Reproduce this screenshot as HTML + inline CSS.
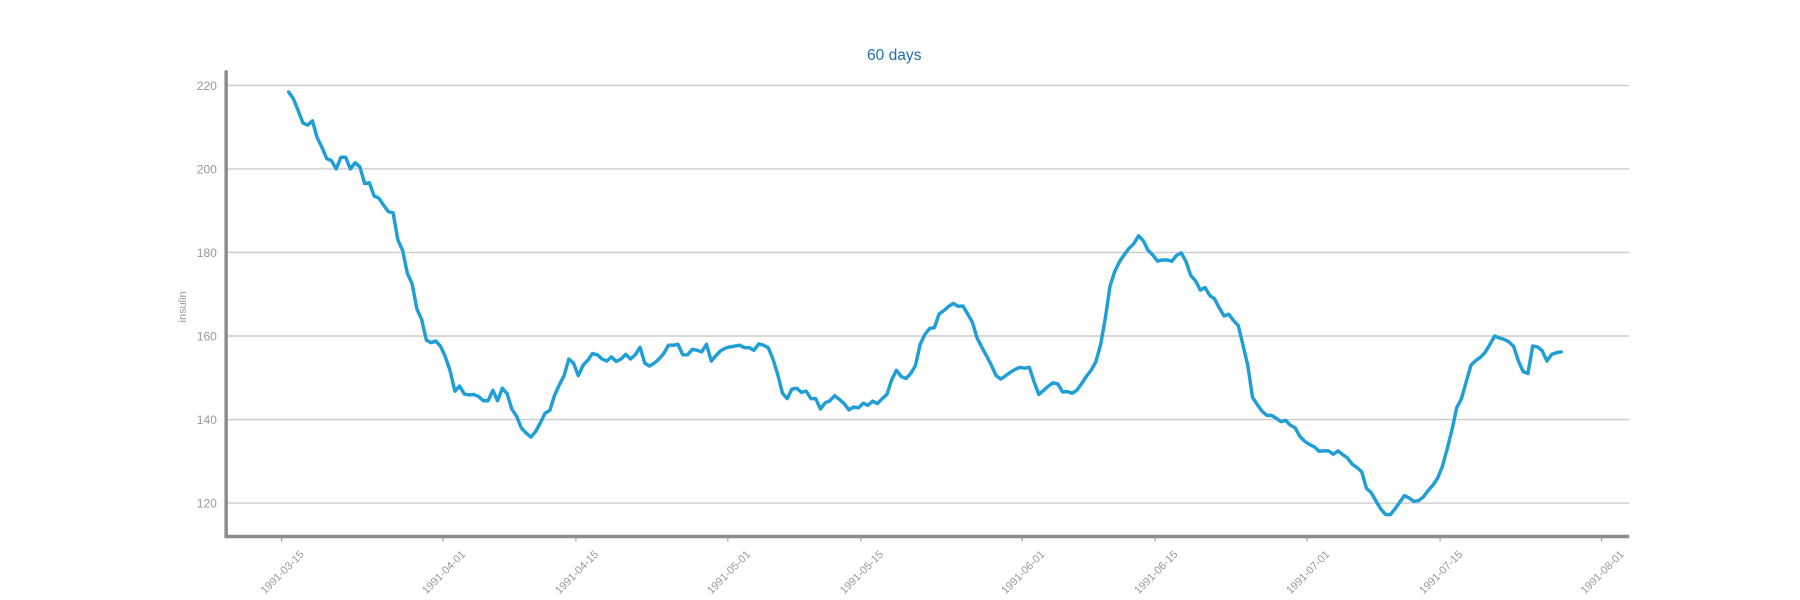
<!DOCTYPE html>
<html>
<head>
<meta charset="utf-8">
<style>
  html,body{margin:0;padding:0;background:#fff;}
  svg{display:block;}
  text{font-family:"Liberation Sans",sans-serif;}
</style>
</head>
<body>
<svg id="chart" width="1800" height="600" viewBox="0 0 1560 520" xmlns="http://www.w3.org/2000/svg">
  <text x="775" y="52" text-anchor="middle" font-size="13.5" fill="#1f6fb2">60 days</text>
  <text x="0" y="0" transform="translate(161,266) rotate(-90)" text-anchor="middle" font-size="9.5" fill="#999">insulin</text>
  <g id="grid"></g>
  <g id="yticks"></g>
  <g id="xticks"></g>
  <g id="series"></g>
  <line x1="196" y1="61" x2="196" y2="466" stroke="#8c8c8c" stroke-width="3"/>
  <line x1="194.5" y1="465" x2="1412" y2="465" stroke="#8c8c8c" stroke-width="3"/>
</svg>
<script>
const startDate = "1991-03-15T18:00:00Z";
const stepHours = 12;
const insulinValues = [
218.4,216.8,214,211,210.5,211.5,207.5,205.2,202.5,202,200,202.8,202.8,200,201.5,200.5,196.5,196.7,193.5,193,
191.3,189.8,189.5,183,180.5,175,172.5,166.5,164,159,158.4,158.8,157.5,155,151.7,146.8,148,146.1,145.9,146,
145.5,144.5,144.5,147,144.5,147.5,146.2,142.5,140.8,138,136.8,135.8,137.1,139.2,141.5,142.2,145.8,148.3,150.5,154.5,
153.5,150.5,153,154.2,155.8,155.5,154.5,154,155,153.9,154.5,155.6,154.5,155.5,157.3,153.5,152.8,153.5,154.5,155.8,
157.8,157.8,158,155.5,155.5,156.8,156.6,156.2,158,154,155.3,156.5,157.1,157.4,157.6,157.8,157.2,157.2,156.6,158.1,
157.8,157.2,154.5,150.8,146.3,145,147.3,147.5,146.5,146.8,145,145,142.5,144,144.5,145.7,144.8,143.8,142.3,143,
142.8,143.9,143.4,144.4,143.8,145,146,149.5,151.8,150.3,149.8,151,152.9,158,160.4,161.8,162,165.3,166.1,167.1,
167.8,167.1,167.2,165.3,163.3,159.5,157.3,155.2,153,150.5,149.7,150.5,151.3,152,152.5,152.3,152.5,149,146,147,
148,148.8,148.5,146.6,146.7,146.3,147,148.6,150.3,151.8,153.8,157.9,164.3,172,175.5,177.8,179.5,181,182.1,184,
182.8,180.5,179.4,177.9,178.2,178.2,177.9,179.3,179.9,177.8,174.5,173.2,171,171.6,169.7,168.9,166.7,164.8,165.2,163.7,
162.5,157.8,153,145.3,143.6,142,141,141,140.3,139.5,139.8,138.6,138,135.9,134.8,134,133.5,132.4,132.5,132.5,
131.7,132.5,131.6,130.8,129.3,128.5,127.5,123.5,122.5,120.5,118.6,117.3,117.2,118.6,120.2,121.8,121.2,120.4,120.6,121.5,
123,124.3,126,128.8,133,137.5,142.8,145,149,153,154.1,154.9,156.1,158,160,159.5,159.2,158.6,157.5,154,
151.5,151,157.6,157.4,156.5,154,155.6,156,156.2
];
const yTickValues = [120,140,160,180,200,220];
const xTickLabels = ["1991-03-15","1991-04-01","1991-04-15","1991-05-01","1991-05-15","1991-06-01","1991-06-15","1991-07-01","1991-07-15","1991-08-01"];

const NS = "http://www.w3.org/2000/svg";
const DAY = 86400000;
const t0 = Date.parse("1991-03-15T00:00:00Z");
function xScale(t){ return 244 + (t - t0)/DAY * 8.23; }
function yScale(v){ return 74 + (220 - v) * 3.62; }

const grid = document.getElementById('grid');
const yt = document.getElementById('yticks');
yTickValues.forEach(v => {
  const y = yScale(v);
  const l = document.createElementNS(NS,'line');
  l.setAttribute('x1',196); l.setAttribute('x2',1412);
  l.setAttribute('y1',y); l.setAttribute('y2',y);
  l.setAttribute('stroke','#cccccc'); l.setAttribute('stroke-width','1.2');
  
  
  grid.appendChild(l);
  const tx = document.createElementNS(NS,'text');
  tx.setAttribute('x',188); tx.setAttribute('y',y+4);
  tx.setAttribute('text-anchor','end'); tx.setAttribute('font-size','10.5'); tx.setAttribute('fill','#999');
  tx.textContent = v;
  
  
  yt.appendChild(tx);
});

const xt = document.getElementById('xticks');
xTickLabels.forEach(d => {
  const x = xScale(Date.parse(d + "T00:00:00Z"));
  const m = document.createElementNS(NS,'line');
  m.setAttribute('x1',x); m.setAttribute('x2',x); m.setAttribute('y1',466); m.setAttribute('y2',469);
  m.setAttribute('stroke','#999'); m.setAttribute('stroke-width','1');
  
  
  xt.appendChild(m);
  const tx = document.createElementNS(NS,'text');
  tx.setAttribute('x',0); tx.setAttribute('y',0);
  tx.setAttribute('transform','translate(' + (x+20) + ',481) rotate(-45)');
  tx.setAttribute('text-anchor','end'); tx.setAttribute('font-size','9.5'); tx.setAttribute('fill','#999');
  tx.textContent = d;
  
  
  xt.appendChild(tx);
});

const ts = Date.parse(startDate);
const pts = insulinValues.map((v,i) => xScale(ts + i*stepHours*3600000).toFixed(2) + ',' + yScale(v).toFixed(2));
const path = document.createElementNS(NS,'polyline');
path.setAttribute('points', pts.join(' '));
path.setAttribute('fill','none'); path.setAttribute('stroke','#1f9fd6');
path.setAttribute('stroke-width','3'); path.setAttribute('stroke-linejoin','round'); path.setAttribute('stroke-linecap','round');


document.getElementById('series').appendChild(path);
</script>
</body>
</html>
